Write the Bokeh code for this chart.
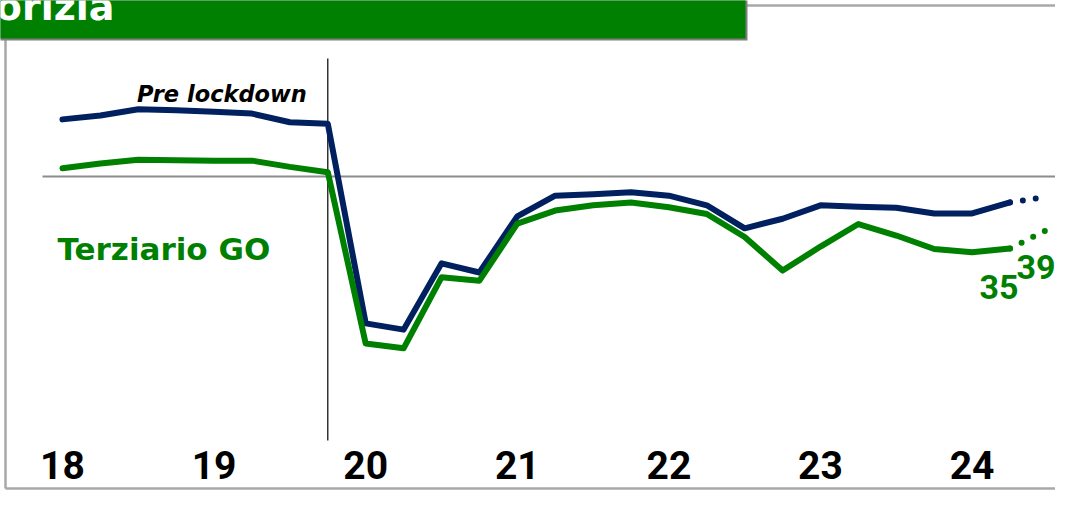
from bokeh.plotting import figure
from bokeh.models import Range1d
from bokeh.core.properties import value
from bokeh.embed import file_html
from bokeh.resources import INLINE

# ---------------- data ----------------
quarters = ["2018Q1", "2018Q2", "2018Q3", "2018Q4",
            "2019Q1", "2019Q2", "2019Q3", "2019Q4",
            "2020Q1", "2020Q2", "2020Q3", "2020Q4",
            "2021Q1", "2021Q2", "2021Q3", "2021Q4",
            "2022Q1", "2022Q2", "2022Q3", "2022Q4",
            "2023Q1", "2023Q2", "2023Q3", "2023Q4",
            "2024Q1", "2024Q2"]
serie_blu = [61.9, 62.7, 64.0, 63.8, 63.5, 63.1, 61.3, 61.0,
             19.4, 18.1, 31.9, 30.0, 41.7, 46.0, 46.3, 46.7,
             46.0, 44.0, 39.2, 41.2, 44.0, 43.7, 43.5, 42.3,
             42.3, 44.6]
terziario_go = [51.7, 52.7, 53.5, 53.4, 53.3, 53.3, 52.0, 50.9,
                15.2, 14.2, 29.0, 28.3, 40.2, 42.9, 44.0, 44.6,
                43.6, 42.2, 37.4, 30.4, 35.4, 40.1, 37.7, 34.9,
                34.2, 35.0]
previsione_blu = 45.8
previsione_go = 39.0
riferimento = 50
year_labels = ["18", "19", "20", "21", "22", "23", "24"]
year_positions = [0, 4, 8, 12, 16, 20, 24]
lockdown_index = 7
label_last = "35"
label_proj = "39"

# ---------------- layout helpers ----------------
W, H = 1055, 490
PX_Q = 37.9          # pixels per quarter
PX_V = 4.8           # pixels per index point
X0 = -62 / PX_Q
X1 = X0 + W / PX_Q
Y1 = 50 + 176 / PX_V
Y0 = Y1 - H / PX_V


def X(px):  # canvas pixel -> data x
    return X0 + px / PX_Q


def Y(py):  # canvas pixel -> data y
    return Y1 - py / PX_V


GREEN = "#008000"
NAVY = "#002060"

p = figure(width=W, height=H, output_backend="svg", toolbar_location=None,
           x_range=Range1d(X0, X1), y_range=Range1d(Y0, Y1),
           min_border=0, x_axis_location=None, y_axis_location=None)
p.grid.visible = False
p.outline_line_color = None
p.background_fill_color = "white"
p.border_fill_color = "white"

# frame border lines
p.segment(x0=[X(745), X(5), X(5)], y0=[Y(5), Y(38), Y(488)],
          x1=[X(1080), X(5), X(1080)], y1=[Y(5), Y(488), Y(488)],
          line_color="#a8a8a8", line_width=2.5)

# title box with shadow
p.quad(left=X(-20), right=X(747), top=Y(-20), bottom=Y(40),
       fill_color="#7f7f7f", line_color=None)
p.quad(left=X(-20), right=X(745), top=Y(-20), bottom=Y(38),
       fill_color=GREEN, line_color=None)
p.text(x=[X(114)], y=[Y(6)], text=["Gorizia"], text_align="right",
       text_baseline="middle", text_color="white",
       text_font=value("DejaVu Sans"), text_font_style="bold",
       text_font_size="38px")

# reference line at 50
p.segment(x0=[X(42)], y0=[riferimento], x1=[X(1080)], y1=[riferimento],
          line_color="#8c8c8c", line_width=2)

# lockdown line
p.segment(x0=[lockdown_index], y0=[Y(58)], x1=[lockdown_index], y1=[Y(440)],
          line_color="black", line_width=1.2)
p.text(x=[lockdown_index], y=[Y(93)], text=["Pre lockdown"], x_offset=-21,
       text_align="right", text_baseline="middle", text_color="black",
       text_font=value("DejaVu Sans"), text_font_style="bold italic",
       text_font_size="22.5px")

xs = list(range(len(quarters)))
p.line(xs, serie_blu, line_color=NAVY, line_width=6, line_join="round",
       line_cap="round")
p.line(xs, terziario_go, line_color=GREEN, line_width=6, line_join="round",
       line_cap="round")

n = len(quarters)
p.line([n - 1, n], [serie_blu[-1], previsione_blu], line_color=NAVY,
       line_width=6, line_dash="0 13", line_cap="round")
p.line([n - 1, n], [terziario_go[-1], previsione_go], line_color=GREEN,
       line_width=6, line_dash="0 13", line_cap="round")

p.text(x=[n - 1], y=[terziario_go[-1]], text=[label_last], x_offset=-11,
       y_offset=38, text_align="center", text_baseline="middle",
       text_color=GREEN, text_font=value("Roboto"), text_font_style="bold",
       text_font_size="34px")
p.text(x=[n], y=[previsione_go], text=[label_proj], x_offset=-12,
       y_offset=38, text_align="center", text_baseline="middle",
       text_color=GREEN, text_font=value("Roboto"), text_font_style="bold",
       text_font_size="34px")

p.text(x=[X(57)], y=[Y(248)], text=["Terziario GO"], text_align="left",
       text_baseline="middle", text_color=GREEN,
       text_font=value("DejaVu Sans"), text_font_style="bold",
       text_font_size="31px")

# year labels
p.text(x=year_positions, y=[Y(464)] * len(year_positions), text=year_labels,
       text_align="center", text_baseline="middle", text_color="black",
       text_font=value("Roboto"), text_font_style="bold",
       text_font_size="39px")

open("out.html", "w").write(file_html(p, INLINE))
